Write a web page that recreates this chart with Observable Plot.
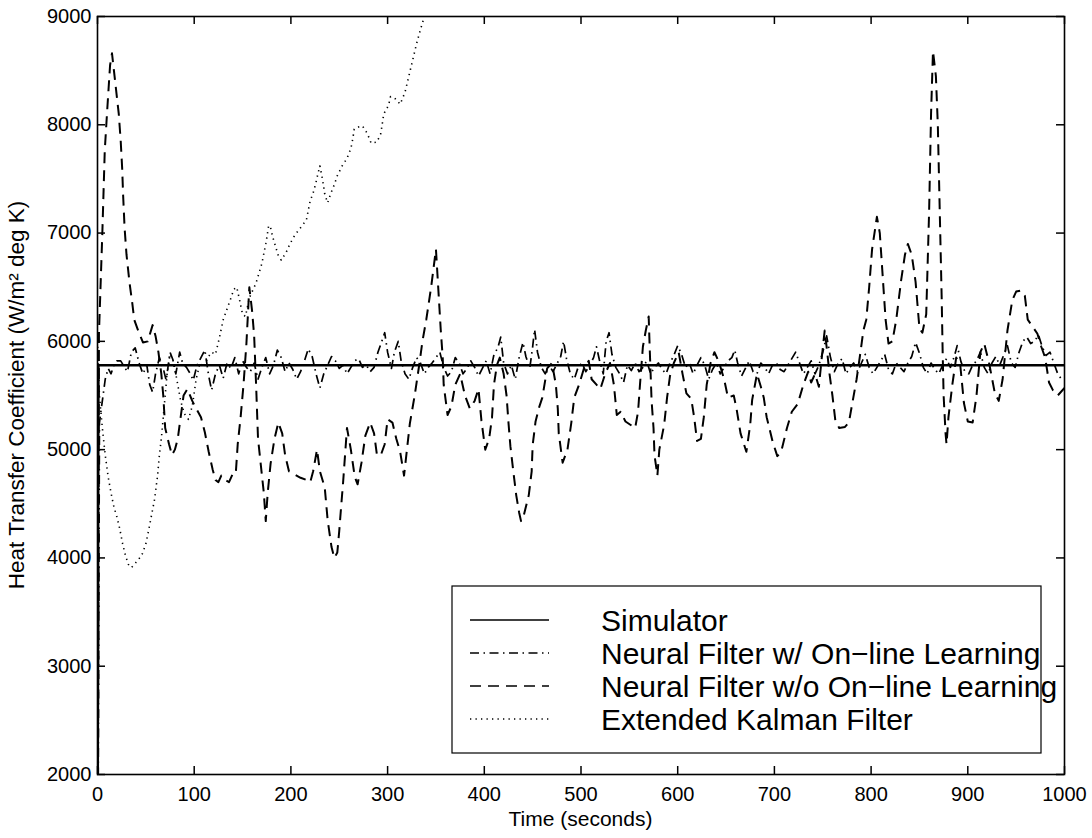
<!DOCTYPE html>
<html><head><meta charset="utf-8">
<script src="https://cdn.jsdelivr.net/npm/d3@7"></script>
<script src="https://cdn.jsdelivr.net/npm/@observablehq/plot@0.6"></script>
<style>
body{margin:0;background:#fff;}
#chart{width:1092px;height:838px;}
</style>
</head><body><div id="chart"></div>
<script>
// ---- Data ----
const xTicks = [0,100,200,300,400,500,600,700,800,900,1000];
const yTicks = [2000,3000,4000,5000,6000,7000,8000,9000];
const seriesNames = ["Simulator","Neural Filter w/ On\u2212line Learning","Neural Filter w/o On\u2212line Learning","Extended Kalman Filter"];
const xLabel = "Time (seconds)";
const yLabel = "Heat Transfer Coefficient (W/m\u00B2 deg K)";

const simT = [0, 1, 1000];
const simV = [0, 5780, 5780];

const nfwT = [0,2,5,8,11,14,17,20,24,28,31,35,39,43,47,51,54,57,60,64,68,71,75,78,81,85,88,92,96,99,103,107,111,115,118,122,126,130,134,138,142,146,150,154,158,162,166,170,174,178,182,186,190,194,198,202,206,210,214,218,222,226,230,234,238,242,246,250,254,258,262,266,270,274,278,282,286,290,294,297,300,304,307,311,314,318,322,326,330,334,338,342,346,350,354,358,362,366,370,374,378,382,386,390,394,398,402,406,410,414,417,420,424,428,432,436,440,443,447,450,452,455,459,463,467,471,475,479,482,485,489,493,497,501,505,509,513,516,519,523,526,529,532,536,540,544,548,552,556,560,564,568,572,576,580,584,588,592,596,600,604,608,612,616,620,624,628,632,636,640,644,648,652,656,659,662,666,670,674,678,682,686,690,694,698,702,706,710,714,718,722,726,730,734,738,742,746,750,754,758,762,766,770,774,778,782,786,790,794,798,802,806,810,814,818,822,826,830,834,838,842,846,850,854,858,862,866,870,874,878,882,886,889,893,897,901,905,909,913,917,921,925,929,933,937,941,945,949,953,957,961,965,969,973,977,981,985,989,993,997,1000];
const nfwV = [0,5250,5450,5650,5750,5700,5780,5820,5820,5760,5720,5900,5940,5800,5700,5780,5600,5530,5700,5850,5750,5640,5900,5830,5700,5900,5800,5760,5700,5640,5780,5850,5920,5680,5550,5700,5780,5660,5800,5750,5850,5700,5820,5760,5720,5800,5650,5760,5850,5700,5780,5920,5850,5720,5800,5740,5650,5720,5820,5930,5860,5700,5570,5700,5780,5860,5820,5750,5780,5700,5760,5820,5840,5760,5780,5720,5760,5900,6000,6080,5900,5750,5900,6000,5820,5700,5650,5760,5850,5800,5700,5760,5800,5850,5900,5760,5680,5720,5850,5800,5700,5750,5820,5760,5680,5750,5820,5700,5880,5940,6040,5800,5700,5780,5650,5850,5990,5860,5750,5950,6110,5900,5760,5700,5780,5720,5790,5860,6000,5840,5700,5650,5760,5800,5720,5780,5850,5950,5830,5700,6000,6080,5880,5760,5700,5620,5780,5730,5800,5720,5760,5820,5700,5760,5800,5740,5700,5800,5870,5960,5880,5760,5800,5700,5780,5850,5780,5650,5740,5800,5700,5760,5820,5850,5920,5800,5680,5750,5820,5720,5700,5800,5760,5700,5780,5800,5740,5720,5780,5840,5900,5800,5700,5760,5820,5700,5780,5900,6050,5850,5720,5800,5840,5700,5760,5800,5720,5800,5880,5760,5700,5760,5820,5880,5740,5700,5800,5760,5720,5800,5860,5990,5890,5760,5700,5800,5740,5700,5780,5840,5760,5860,5960,5810,5720,5700,5780,5820,5900,5760,5700,5800,5860,5780,5870,5960,5800,5760,5900,6000,6040,5980,6000,6060,5950,5870,5900,5800,5700,5650,5660];

const nfoT = [0,1.5,5,7.5,10,13,15,17,19,22,24,25.5,26.5,28,30,33,36,38,42,47,52,57,60,63,66,68,70,74,77,80,83,86,89,93,98,102,107,111,115,119,122,125,128,132,136,140,143,145,148,151,154,157,160,162,164,166,169,172,174,176,179,183,187,191,194,198,204,210,216,220,223,227,230,235,238,242,245,248,250,252,254,258,262,266,269,273,277,282,286,289,293,297,300,305,309,313,317,320,323,328,333,336,340,345,350,353,355,357,358,362,366,370,375,380,385,390,394,397,401,405,408,410,413,416,420,423,425,427,430,433,436,438,441,446,449,450,453,457,460,465,470,474,476,477,481,486,490,493,498,503,508,511,516,520,525,530,534,537,541,546,551,556,559,561,564,567,570,571,573,575,576,579,581,586,589,592,596,601,605,609,614,617,620,624,627,630,634,638,643,648,652,658,661,665,671,675,677,682,686,689,692,698,703,707,713,718,724,730,735,738,742,746,749,752,754,757,760,763,767,773,777,781,785,789,792,795,798,801,806,809,812,815,818,822,826,831,835,838,842,846,850,853,857,860,862,864,867,869,871,873,874,875,877,878,880,884,888,892,896,900,905,909,913,917,922,928,932,936,941,946,950,955,959,962,966,972,976,980,984,988,993,1000];
const nfoV = [0,6070,7000,7760,8130,8550,8660,8500,8340,8100,7850,7600,7350,7050,6800,6550,6350,6200,6100,5990,6000,6150,6050,5900,5700,5500,5200,5050,4950,5000,5100,5300,5500,5560,5450,5380,5300,5160,4980,4820,4720,4700,4760,4720,4700,4780,4780,5050,5300,5600,5980,6500,6270,6050,5600,5100,4850,4600,4340,4600,4870,5100,5250,5150,4950,4800,4770,4740,4720,4700,4800,5000,4800,4650,4350,4100,4000,4050,4250,4480,4700,5200,5000,4750,4680,4880,5130,5250,5150,4950,4950,5050,5280,5250,5100,4980,4760,5000,5240,5500,5800,6000,6200,6500,6850,6400,6100,5850,5600,5320,5400,5600,5700,5500,5380,5450,5560,5270,5000,5100,5300,5600,5780,5850,5700,5500,5250,5030,4800,4580,4420,4340,4400,4580,4800,5040,5260,5400,5480,5750,5800,5600,5380,5150,4880,5000,5250,5480,5600,5750,5820,5650,5600,5560,5700,5800,5600,5320,5350,5260,5230,5200,5350,5600,5950,6100,6230,5950,5450,5200,4950,4760,5000,5230,5480,5680,5800,5900,5700,5520,5470,5300,5080,5100,5300,5600,5800,5900,5800,5650,5480,5500,5370,5150,4980,5230,5460,5700,5580,5480,5300,5080,4940,4980,5200,5350,5420,5600,5720,5620,5700,5580,5850,6100,5950,5700,5500,5270,5200,5210,5250,5450,5650,5900,6100,6200,6500,6850,7150,7000,6600,6200,5980,6000,6200,6560,6800,6900,6800,6550,6120,6080,6250,7200,8100,8680,8450,8000,7200,6400,5900,5500,5150,5050,5300,5600,5850,5800,5430,5260,5250,5500,5900,5980,5800,5520,5450,5650,6100,6380,6460,6470,6420,6200,6150,6070,5950,5850,5620,5550,5500,5570];

const ekfT = [0,2,5,8,11,14,17,20,23,26,29,32,35,38,42,46,50,53,56,59,62,64,66,68,70,72,75,78,82,86,90,94,98,102,106,110,114,118,122,126,130,134,138,141,144,147,150,153,157,161,164,167,170,172,174,175.5,177,179,181,184,187,190,195,199,204,210,216,218,220,223,226,228,230,232,233.5,235,238,241,245,248,253,258,262,264,265.5,270,274,279,283,289,293,294.5,296,301,303,308,313,318,322,326,330,334,338,345,355];
const ekfV = [6000,5500,5200,4950,4750,4600,4470,4380,4270,4130,4020,3940,3910,3940,3980,4030,4130,4260,4400,4540,4750,4950,5100,5300,5500,5700,5880,5830,5650,5450,5330,5280,5400,5650,5800,5760,5850,5900,5880,6030,6200,6300,6400,6480,6500,6380,6250,6230,6400,6480,6540,6630,6720,6810,6900,6980,7070,7050,6970,6880,6790,6750,6820,6900,6980,7050,7120,7210,7300,7370,7470,7550,7620,7530,7450,7360,7280,7360,7450,7530,7620,7690,7780,7870,7960,7980,7990,7920,7830,7840,7920,8010,8100,8180,8260,8240,8190,8300,8450,8600,8750,8880,9000,9200,9500];

// ---- Build tables ----
const toRows = (T, V) => T.map((t, i) => ({t, v: V[i]}));
const sim = toRows(simT, simV), nfw = toRows(nfwT, nfwV), nfo = toRows(nfoT, nfoV), ekf = toRows(ekfT, ekfV);

const W = 1092, H = 838;
const mL = 97, mR = 28, mT = 16, mB = 64;
const font = "'Liberation Sans', Arial, Helvetica, sans-serif";
const tickPx = 8;
const yTickLen = tickPx * (yTicks[yTicks.length-1] - yTicks[0]) / (H - mT - mB);
const xTickLen = tickPx * (xTicks[xTicks.length-1] - xTicks[0]) / (W - mL - mR);

const styles = [
  {data: sim, dash: null, width: 2.4},
  {data: nfw, dash: "9,4.5,1.5,4.5", width: 1.7},
  {data: nfo, dash: "11,7", width: 2},
  {data: ekf, dash: "1.3,4.2", width: 1.6}
];

const plot = Plot.plot({
  width: W, height: H,
  marginLeft: mL, marginRight: mR, marginTop: mT, marginBottom: mB,
  style: {fontFamily: font, fontSize: "20px", color: "#000", background: "#fff", overflow: "visible"},
  x: {domain: [0, 1000], ticks: xTicks, label: null},
  y: {domain: [2000, 9000], ticks: yTicks, label: null},
  marks: [
    Plot.line(ekf, {x: "t", y: "v", stroke: "#000", strokeWidth: styles[3].width, strokeDasharray: styles[3].dash, strokeLinecap: "butt", clip: true}),
    Plot.line(nfo, {x: "t", y: "v", stroke: "#000", strokeWidth: styles[2].width, strokeDasharray: styles[2].dash, strokeLinecap: "butt", clip: true}),
    Plot.line(nfw, {x: "t", y: "v", stroke: "#000", strokeWidth: styles[1].width, strokeDasharray: styles[1].dash, strokeLinecap: "butt", clip: true}),
    Plot.line(sim, {x: "t", y: "v", stroke: "#000", strokeWidth: styles[0].width, clip: true}),
    Plot.ruleX(xTicks, {x: d => d, y1: yTicks[0], y2: yTicks[0] + yTickLen, stroke: "#000", strokeWidth: 1.5}),
    Plot.ruleX(xTicks, {x: d => d, y1: yTicks[yTicks.length-1], y2: yTicks[yTicks.length-1] - yTickLen, stroke: "#000", strokeWidth: 1.5}),
    Plot.ruleY(yTicks, {y: d => d, x1: xTicks[0], x2: xTicks[0] + xTickLen, stroke: "#000", strokeWidth: 1.5}),
    Plot.ruleY(yTicks, {y: d => d, x1: xTicks[xTicks.length-1], x2: xTicks[xTicks.length-1] - xTickLen, stroke: "#000", strokeWidth: 1.5}),
    Plot.axisX({ticks: xTicks, tickSize: 0, tickPadding: 12, tickFormat: d => String(d), label: null, fontSize: 20}),
    Plot.axisY({ticks: yTicks, tickSize: 0, tickPadding: 6, tickFormat: d => String(d), label: null, fontSize: 20}),
    Plot.frame({stroke: "#000", strokeWidth: 1.6})
  ]
});
document.getElementById("chart").appendChild(plot);

// ---- Axis labels and legend (layout in pixels) ----
const svg = d3.select(plot);
svg.append("text").attr("x", (mL + W - mR) / 2).attr("y", 826)
  .attr("text-anchor", "middle").attr("font-family", font).attr("font-size", 21).attr("fill", "#000")
  .text(xLabel);
svg.append("text").attr("transform", `translate(24,${(mT + H - mB) / 2}) rotate(-90)`)
  .attr("text-anchor", "middle").attr("font-family", font).attr("font-size", 22.5).attr("fill", "#000")
  .text(yLabel);

const lg = {x0: 452, x1: 1041, y0: 586, y1: 753, row0: 620, dy: 33};
const g = svg.append("g").attr("text-anchor", "start");
g.append("rect").attr("x", lg.x0).attr("y", lg.y0).attr("width", lg.x1 - lg.x0).attr("height", lg.y1 - lg.y0)
  .attr("fill", "#fff").attr("stroke", "#000").attr("stroke-width", 1.2);
seriesNames.forEach((name, i) => {
  const y = lg.row0 + i * lg.dy;
  g.append("line").attr("x1", 470).attr("x2", 549).attr("y1", y).attr("y2", y)
    .attr("stroke", "#000").attr("stroke-width", i === 0 ? 1.6 : 1.3)
    .attr("stroke-dasharray", styles[i].dash).attr("stroke-linecap", "butt");
  g.append("text").attr("x", 601).attr("y", y).attr("dy", "0.36em").attr("text-anchor", "start")
    .attr("font-family", font).attr("font-size", 30).attr("fill", "#000").text(name);
});
</script>
</body></html>
